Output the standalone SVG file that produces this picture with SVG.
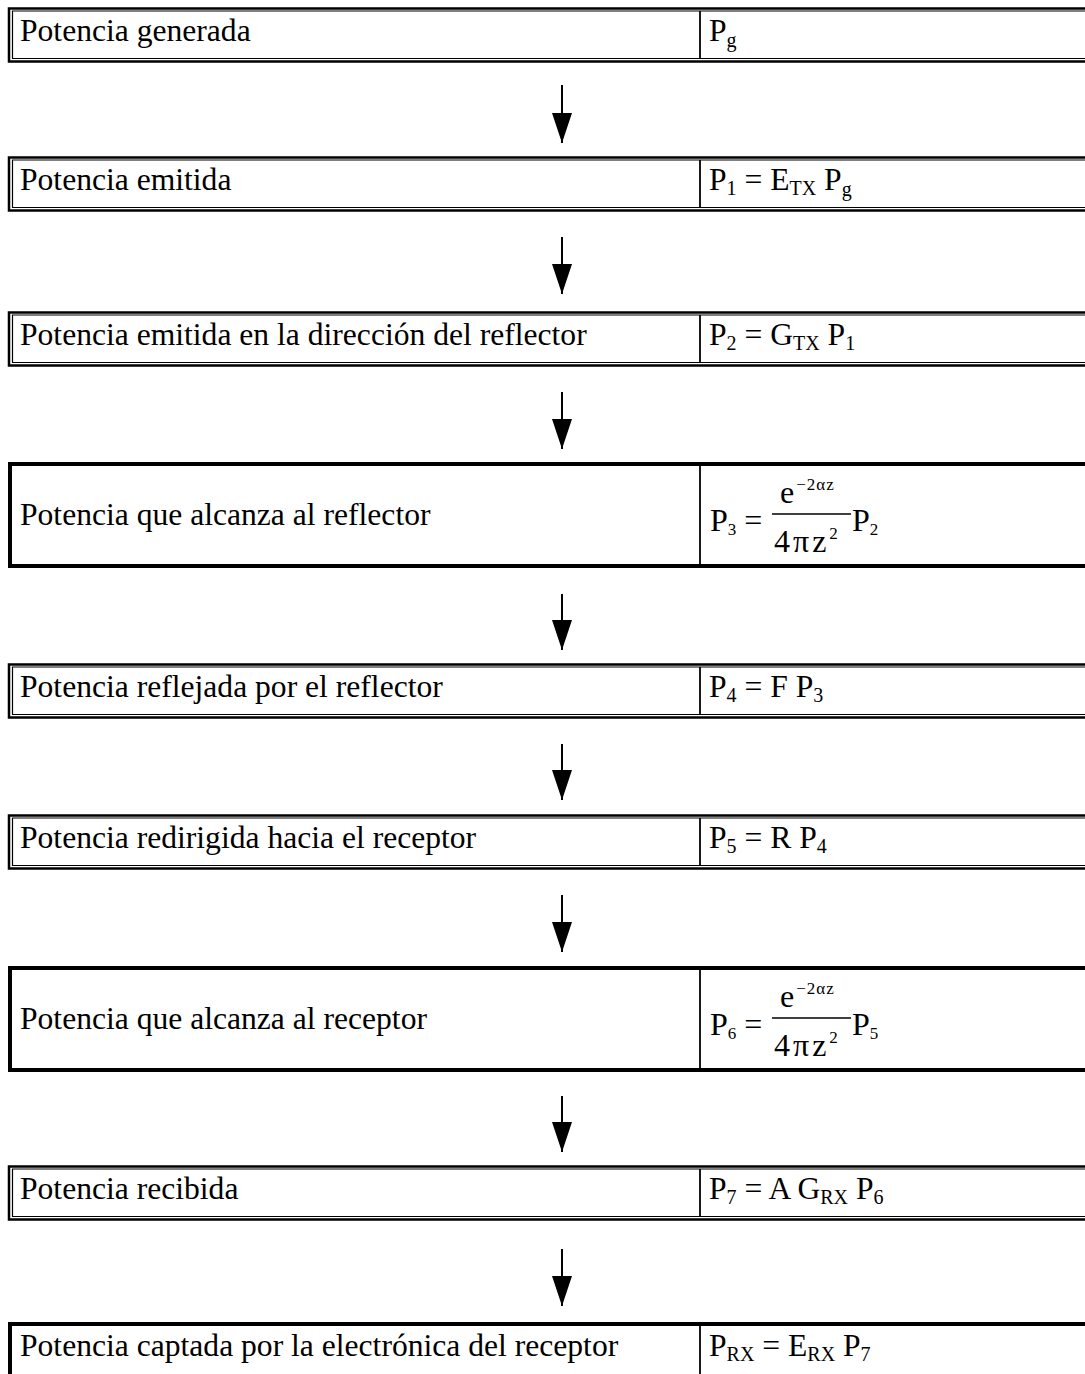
<svg xmlns="http://www.w3.org/2000/svg" width="1085" height="1374" viewBox="0 0 1085 1374">
<defs>
<style>
.t{font-family:"Liberation Serif","Times New Roman",serif;font-size:31.6px;fill:#000}
.f{font-family:"Liberation Serif","Times New Roman",serif;font-size:31.6px;fill:#000}
.s{font-size:20px}
.m{font-family:"Liberation Serif","Times New Roman",serif;fill:#000;font-size:32px}
.ms{font-size:17px}
.w{letter-spacing:3px}
.o{stroke:#000;stroke-width:2.5;fill:none}
.i{stroke:#000;stroke-width:1.2;fill:none}
.k{stroke:#000;stroke-width:4;fill:none}
.d{stroke:#000;stroke-width:1.8;fill:none}
.a{stroke:#000;stroke-width:2;fill:none}
</style>
<marker id="ah" markerWidth="30" markerHeight="20" refX="30" refY="10" orient="auto" markerUnits="userSpaceOnUse" viewBox="0 0 30 20">
<path d="M0,0 L30,10 L0,20 Z" fill="#000"/>
</marker>
</defs>

<g id="n1">
<path class="o" d="M1085,8.5 H9 V61.5 H1085"/>
<path class="i" d="M1085,11 H12.5 V58.5 H1085"/>
<line class="d" x1="700" y1="11" x2="700" y2="58.5"/>
<text class="t" x="20" y="41">Potencia generada</text>
<text class="f" x="709" y="41">P<tspan class="s" dy="6">g</tspan></text>
</g>

<g id="n2">
<path class="o" d="M1085,157.5 H9 V210.5 H1085"/>
<path class="i" d="M1085,160 H12.5 V207.5 H1085"/>
<line class="d" x1="700" y1="160" x2="700" y2="207.5"/>
<text class="t" x="20" y="190">Potencia emitida</text>
<text class="f" x="709" y="190">P<tspan class="s" dy="5">1</tspan><tspan dy="-5"> = E</tspan><tspan class="s" dy="5">TX</tspan><tspan dy="-5"> P</tspan><tspan class="s" dy="6">g</tspan></text>
</g>

<g id="n3">
<path class="o" d="M1085,312.5 H9 V365.5 H1085"/>
<path class="i" d="M1085,315 H12.5 V362.5 H1085"/>
<line class="d" x1="700" y1="315" x2="700" y2="362.5"/>
<text class="t" x="20" y="345">Potencia emitida en la dirección del reflector</text>
<text class="f" x="709" y="345">P<tspan class="s" dy="5">2</tspan><tspan dy="-5"> = G</tspan><tspan class="s" dy="5">TX</tspan><tspan dy="-5"> P</tspan><tspan class="s" dy="5">1</tspan></text>
</g>

<g id="n4">
<path class="k" d="M1085,464 H10 V566 H1085"/>
<line class="d" x1="700" y1="466" x2="700" y2="564"/>
<text class="t" x="20" y="525">Potencia que alcanza al reflector</text>
<g class="m">
<text x="710" y="531">P<tspan class="ms" dy="4">3</tspan><tspan dy="-4"> =</tspan></text>
<line x1="772" y1="514" x2="851" y2="514" stroke="#000" stroke-width="1.5"/>
<text x="780" y="503">e<tspan class="ms" dy="-13" dx="2" letter-spacing="1">−2αz</tspan></text>
<text x="774" y="552"><tspan class="w">4πz</tspan><tspan class="ms" dy="-13">2</tspan></text>
<text x="852" y="531">P<tspan class="ms" dy="4">2</tspan></text>
</g>
</g>

<g id="n5">
<path class="o" d="M1085,664.5 H9 V717.5 H1085"/>
<path class="i" d="M1085,667 H12.5 V714.5 H1085"/>
<line class="d" x1="700" y1="667" x2="700" y2="714.5"/>
<text class="t" x="20" y="697">Potencia reflejada por el reflector</text>
<text class="f" x="709" y="697">P<tspan class="s" dy="5">4</tspan><tspan dy="-5"> = F P</tspan><tspan class="s" dy="5">3</tspan></text>
</g>

<g id="n6">
<path class="o" d="M1085,815.5 H9 V868.5 H1085"/>
<path class="i" d="M1085,818 H12.5 V865.5 H1085"/>
<line class="d" x1="700" y1="818" x2="700" y2="865.5"/>
<text class="t" x="20" y="848">Potencia redirigida hacia el receptor</text>
<text class="f" x="709" y="848">P<tspan class="s" dy="5">5</tspan><tspan dy="-5"> = R P</tspan><tspan class="s" dy="5">4</tspan></text>
</g>

<g id="n7">
<path class="k" d="M1085,968 H10 V1070 H1085"/>
<line class="d" x1="700" y1="970" x2="700" y2="1068"/>
<text class="t" x="20" y="1029">Potencia que alcanza al receptor</text>
<g class="m">
<text x="710" y="1035">P<tspan class="ms" dy="4">6</tspan><tspan dy="-4"> =</tspan></text>
<line x1="772" y1="1018" x2="851" y2="1018" stroke="#000" stroke-width="1.5"/>
<text x="780" y="1007">e<tspan class="ms" dy="-13" dx="2" letter-spacing="1">−2αz</tspan></text>
<text x="774" y="1056"><tspan class="w">4πz</tspan><tspan class="ms" dy="-13">2</tspan></text>
<text x="852" y="1035">P<tspan class="ms" dy="4">5</tspan></text>
</g>
</g>

<g id="n8">
<path class="o" d="M1085,1166.5 H9 V1219.5 H1085"/>
<path class="i" d="M1085,1169 H12.5 V1216.5 H1085"/>
<line class="d" x1="700" y1="1169" x2="700" y2="1216.5"/>
<text class="t" x="20" y="1199">Potencia recibida</text>
<text class="f" x="709" y="1199">P<tspan class="s" dy="5">7</tspan><tspan dy="-5"> = A G</tspan><tspan class="s" dy="5">RX</tspan><tspan dy="-5"> P</tspan><tspan class="s" dy="5">6</tspan></text>
</g>

<g id="n9">
<path class="k" d="M1085,1324 H10 V1374"/>
<line class="d" x1="700" y1="1326" x2="700" y2="1374"/>
<text class="t" x="20" y="1356">Potencia captada por la electrónica del receptor</text>
<text class="f" x="709" y="1356">P<tspan class="s" dy="5">RX</tspan><tspan dy="-5"> = E</tspan><tspan class="s" dy="5">RX</tspan><tspan dy="-5"> P</tspan><tspan class="s" dy="5">7</tspan></text>
</g>

<g id="connectors">
<line class="a" x1="562" y1="85" x2="562" y2="143" marker-end="url(#ah)"/>
<line class="a" x1="562" y1="237" x2="562" y2="294" marker-end="url(#ah)"/>
<line class="a" x1="562" y1="392" x2="562" y2="449" marker-end="url(#ah)"/>
<line class="a" x1="562" y1="594" x2="562" y2="650" marker-end="url(#ah)"/>
<line class="a" x1="562" y1="744" x2="562" y2="800" marker-end="url(#ah)"/>
<line class="a" x1="562" y1="895" x2="562" y2="952" marker-end="url(#ah)"/>
<line class="a" x1="562" y1="1096" x2="562" y2="1152" marker-end="url(#ah)"/>
<line class="a" x1="562" y1="1249" x2="562" y2="1306" marker-end="url(#ah)"/>
</g>
</svg>
